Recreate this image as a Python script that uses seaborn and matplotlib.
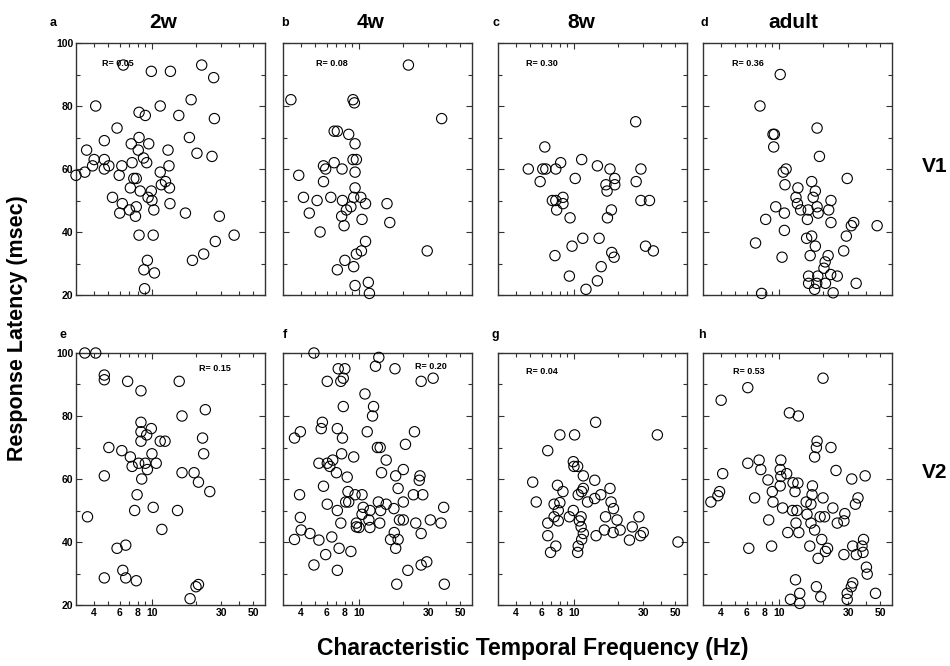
import numpy as np
import pandas as pd
import seaborn as sns
import matplotlib.pyplot as plt
import matplotlib.ticker as ticker

# Values: characteristic temporal frequency (Hz) vs response latency (msec)
v1_2w_tf = [3.0, 3.45, 3.55, 4.0, 4.1, 3.9, 4.7, 4.7, 4.7, 5.05, 5.75, 5.95, 6.2, 5.35, 6.25, 6.0,
            6.35, 7.0, 7.2, 7.3, 7.1, 7.5, 7.8, 8.15, 8.05, 8.3, 7.8, 7.7, 8.15, 9.0, 8.75, 9.2,
            9.5, 9.4, 9.9, 10.0, 10.3, 8.15, 10.2, 9.3, 8.8, 10.4, 8.9, 9.9, 11.4, 11.4, 11.6,
            12.4, 13.2, 12.9, 13.1, 13.3, 13.4, 15.3, 17.0, 18.1, 18.6, 20.4, 19.0, 22.0, 22.7,
            26.6, 26.9, 25.9, 27.3, 29.1, 36.8]
v1_2w_lat = [58, 59, 66, 63, 80, 61, 63, 69, 60, 61, 73, 58, 61, 51, 49, 46,
             93, 47, 68, 62, 54, 57, 57, 70, 66, 53, 48, 45, 78, 77, 63.5, 62,
             68, 51, 53, 50, 47, 39, 39, 31, 28, 27, 22, 91, 80, 59, 55,
             56, 54, 66, 61, 49, 91, 77, 46, 70, 82, 65, 31, 93, 33,
             89, 76, 64, 37, 45, 39]

v1_4w_tf = [3.4, 3.85, 4.15, 4.55, 5.15, 5.4, 5.7, 5.7, 5.9, 6.4, 6.75, 6.75, 7.1, 7.65, 8.5,
            7.7, 8.2, 7.6, 7.9, 8.8, 9.1, 9.3, 9.4, 9.1, 9.6, 9.4, 9.4, 9.2, 10.3, 11.1, 10.5,
            11.1, 10.4, 9.6, 8.0, 7.1, 9.2, 9.4, 11.6, 11.8, 15.6, 16.3, 21.9, 29.5, 37.1]
v1_4w_lat = [82, 58, 51, 46, 50, 40, 56, 61, 60, 51, 62, 72, 72, 60, 71,
             50, 47, 45, 42, 48, 82, 81, 68, 63, 63, 59, 54, 51, 51, 49, 44,
             37, 34, 33, 31, 28, 29, 23, 24, 20.5, 49, 43, 93, 34, 76]

v1_8w_tf = [4.85, 5.85, 6.1, 6.4, 6.3, 7.5, 8.1, 7.1, 7.5, 8.4, 8.4, 7.6, 9.4, 10.2, 11.3,
            14.5, 17.7, 16.6, 16.9, 19.1, 19.1, 18.1, 17.0, 26.6, 28.9, 26.8, 28.9, 33.1, 31.1,
            35.2, 11.5, 14.9, 9.7, 7.4, 18.2, 18.9, 15.4, 9.3, 14.5, 12.1]
v1_8w_lat = [60, 56, 60, 60, 67, 60, 62, 50, 50, 51, 49, 47, 44.5, 57, 63,
             61, 60, 55, 53, 57, 55, 47, 44.5, 75, 60, 56, 50, 50, 35.5,
             34, 38, 38, 35.5, 32.5, 33.5, 32, 29, 26, 24.5, 21.8]

v1_adult_tf = [10.2, 7.4, 9.1, 9.3, 9.2, 18.3, 19.0, 11.2, 10.7, 11.0, 29.5, 16.8, 13.5, 17.8,
               17.2, 13.1, 13.4, 14.1, 15.9, 18.3, 22.8, 22.0, 18.6, 15.7, 9.5, 10.9, 8.1,
               22.8, 31.5, 32.7, 47.4, 10.9, 6.9, 15.5, 16.8, 17.8, 29.1, 27.9, 10.5, 16.4,
               21.8, 20.8, 20.4, 16.0, 18.5, 16.0, 18.2, 17.6, 20.9, 22.7, 25.2, 34.0, 23.6, 7.6]
v1_adult_lat = [90, 80, 71, 71, 67, 73, 64, 60, 59, 55, 57, 56, 54, 53,
                51, 51, 49, 47, 47, 48, 50, 47, 46, 44, 48, 46, 44,
                43, 42, 43, 42, 40.5, 36.5, 38, 38.7, 35.5, 38.7, 34, 32, 32.5,
                32.5, 30.5, 28.5, 26, 26, 23.7, 23.7, 21.8, 23.7, 26.5, 26, 23.7, 20.7, 20.5]

v2_2w_tf = [3.45, 4.1, 3.6, 4.7, 4.7, 5.05, 4.7, 4.7, 5.75, 6.6, 6.3, 6.6, 7.8, 6.8, 8.4,
            6.2, 7.1, 7.3, 8.4, 8.4, 8.4, 9.2, 9.9, 8.1, 9.0, 9.3, 10.0, 10.7, 8.5, 7.9,
            7.6, 10.2, 11.7, 11.4, 12.3, 15.4, 16.1, 16.1, 15.0, 19.5, 20.9, 22.3, 22.7,
            23.3, 25.0, 18.3, 20.1, 20.9]
v2_2w_lat = [100, 100, 48, 93, 91.5, 70, 61, 28.6, 38, 39, 31, 28.6, 27.7, 91, 88,
             69, 67, 64, 78, 75, 72, 74, 76, 65, 65, 63, 68, 65, 60, 55,
             50, 51, 44, 72, 72, 91, 80, 62, 50, 62, 59, 73, 68,
             82, 56, 22, 25.8, 26.5]

v2_4w_tf = [4.9, 13.7, 13.0, 17.7, 7.2, 8.0, 6.05, 7.5, 7.8, 26.8, 32.4, 11.0, 7.8, 12.6,
            12.4, 5.6, 5.5, 7.1, 7.7, 11.4, 24.1, 3.95, 3.6, 13.4, 14.0, 20.9, 7.6, 9.2,
            5.3, 6.05, 6.6, 6.3, 7.0, 8.3, 15.4, 14.3, 17.9, 20.2, 26.3, 26.0, 5.7, 3.9,
            8.4, 8.5, 9.4, 10.5, 8.1, 18.6, 23.7, 27.5, 20.2, 13.6, 15.4, 6.05, 10.7, 11.9,
            14.1, 17.4, 10.5, 7.1, 38.3, 3.95, 4.0, 9.6, 11.7, 13.9, 7.5, 19.0, 20.2, 24.6,
            31.0, 36.7, 9.6, 10.0, 11.9, 4.6, 3.6, 5.3, 6.5, 17.5, 16.5, 18.6, 26.8, 17.9,
            7.3, 8.8, 5.9, 4.9, 7.1, 21.7, 26.8, 29.3, 18.2, 38.7]
v2_4w_lat = [100, 98.6, 95.8, 95, 95, 95, 91, 91, 92, 91, 92, 87, 83, 83,
             80, 78, 76, 76, 73, 75, 75, 75, 73, 70, 70, 71, 68, 67,
             65, 65, 66, 64, 62, 60.6, 66, 62, 61, 63, 61, 59.6, 57.7, 55,
             56, 52.7, 55, 55, 52.7, 57, 55, 55, 52.7, 52.7, 52, 52, 51, 50,
             50, 50.6, 48.8, 50, 51, 47.8, 43.8, 46, 47, 46, 46, 47, 47, 46,
             47, 46, 44.8, 44.6, 44.6, 42.7, 40.8, 40.6, 41.6, 43, 40.8, 40.8, 42.7, 38,
             38, 37, 36, 32.7, 31, 31, 32.7, 33.7, 26.6, 26.6]

v2_8w_tf = [14.1, 8.0, 10.1, 37.5, 6.6, 9.9, 10.0, 10.6, 11.6, 5.2, 13.9, 7.7, 8.4, 10.7,
            11.3, 11.6, 17.7, 12.4, 13.9, 15.3, 5.5, 7.3, 8.0, 18.0, 18.7, 7.8, 9.9, 9.3,
            7.3, 11.2, 16.5, 19.8, 6.6, 7.8, 10.9, 11.2, 16.2, 20.8, 18.6, 25.2, 28.0, 30.0,
            28.7, 11.6, 14.2, 6.6, 24.1, 11.3, 10.7, 7.5, 6.9, 10.6, 52.0]
v2_8w_lat = [78, 74, 74, 74, 69, 65.5, 64, 64, 61, 59, 59.6, 58, 56, 55,
             56, 57, 57, 52.7, 53.8, 55, 52.7, 52, 52.5, 52.7, 50.6, 50, 50, 48,
             48, 48, 48, 47, 46, 46.7, 46.7, 44.8, 43.8, 43.8, 43, 44.8, 48, 43,
             42, 42.7, 42, 42, 40.6, 40.8, 38.7, 38.7, 36.7, 36.7, 40]

v2_adult_tf = [20.1, 6.1, 4.0, 11.8, 13.6, 18.3, 18.1, 22.8, 17.6, 6.1, 7.3, 7.5, 10.3, 10.2,
               11.3, 10.3, 8.4, 24.7, 4.1, 39.2, 31.7, 12.5, 13.5, 17.0, 10.2, 12.9, 9.0,
               3.9, 3.8, 3.4, 6.8, 9.1, 16.9, 20.1, 35.0, 33.6, 15.4, 16.6, 10.6, 12.4,
               13.3, 23.5, 15.6, 19.2, 20.6, 28.4, 28.0, 25.2, 8.5, 13.1, 16.6, 11.5, 13.7,
               17.6, 19.7, 38.2, 37.3, 32.2, 16.3, 8.9, 6.2, 21.6, 20.9, 18.6, 28.0, 34.1,
               37.9, 40.0, 40.5, 13.0, 18.1, 32.2, 31.5, 46.2, 19.4, 13.9, 12.0, 13.9, 29.5, 29.5]
v2_adult_lat = [92, 89, 85, 81, 80, 72, 70, 70, 67, 65, 66, 63, 66, 63,
                61.7, 60.8, 59.7, 62.7, 61.7, 61, 60, 58.8, 58.7, 57.8, 57.8, 56, 56,
                56, 54.7, 52.7, 54, 52.7, 55, 54, 54, 52, 52.7, 52, 50.8, 50,
                50, 50.8, 48.8, 48, 48, 49, 46.7, 46, 47, 46, 46, 43, 43,
                43.8, 40.8, 40.8, 38.7, 38.7, 38.7, 38.7, 38, 38, 37, 34.8, 36, 36,
                36.7, 32, 29.8, 28, 25.8, 27, 25.8, 23.7, 22.6, 23.7, 21.8, 20.5, 23.7, 21.8]

ages = ['2w', '4w', '8w', 'adult']
areas = ['V1', 'V2']
r_labels = [['R= 0.05', 'R= 0.08', 'R= 0.30', 'R= 0.36'],
            ['R= 0.15', 'R= 0.20', 'R= 0.04', 'R= 0.53']]
panel_letters = [['a', 'b', 'c', 'd'], ['e', 'f', 'g', 'h']]

series = {
    ('V1', '2w'): (v1_2w_tf, v1_2w_lat), ('V1', '4w'): (v1_4w_tf, v1_4w_lat),
    ('V1', '8w'): (v1_8w_tf, v1_8w_lat), ('V1', 'adult'): (v1_adult_tf, v1_adult_lat),
    ('V2', '2w'): (v2_2w_tf, v2_2w_lat), ('V2', '4w'): (v2_4w_tf, v2_4w_lat),
    ('V2', '8w'): (v2_8w_tf, v2_8w_lat), ('V2', 'adult'): (v2_adult_tf, v2_adult_lat),
}
frames = []
for (area, age), (tf, lat) in series.items():
    frames.append(pd.DataFrame({'tf': tf, 'latency': lat, 'area': area, 'age': age}))
df = pd.concat(frames, ignore_index=True)

sns.set_style('ticks')
plt.rcParams['font.family'] = ['Liberation Sans', 'DejaVu Sans']
plt.rcParams['font.weight'] = 'bold'
plt.rcParams['text.color'] = 'black'
plt.rcParams['xtick.color'] = 'black'
plt.rcParams['ytick.color'] = 'black'

W, H = 950, 666
fig = plt.figure(figsize=(9.5, 6.66), dpi=100)

col_left = [76, 283, 498, 703]
row_top = [43, 353]
ax_w, ax_h = 189, 252
# R label positions in axes fraction
r_pos = [[(0.22, 0.92), (0.26, 0.92), (0.23, 0.92), (0.24, 0.92)],
         [(0.735, 0.94), (0.78, 0.945), (0.23, 0.926), (0.24, 0.926)]]
letter_x = [[53, 285, 496, 704], [63, 285, 495, 702]]
letter_y = [23, 335]


def minor_fmt(v, pos):
    return '%g' % v if round(v) in (4, 6, 8, 30, 50) else ''


for i, area in enumerate(areas):
    for j, age in enumerate(ages):
        ax = fig.add_axes([col_left[j] / W, 1 - (row_top[i] + ax_h) / H, ax_w / W, ax_h / H])
        ax.set_xscale('log')
        sub = df[(df['area'] == area) & (df['age'] == age)]
        sns.scatterplot(data=sub, x='tf', y='latency', ax=ax, s=55, facecolors='none',
                        edgecolor='black', linewidth=0.8, clip_on=False, zorder=3)
        ax.set_xlim(3, 60)
        ax.set_ylim(20, 100)
        ax.xaxis.set_major_locator(ticker.FixedLocator([10]))
        ax.xaxis.set_minor_locator(ticker.FixedLocator([4, 5, 6, 7, 8, 9, 20, 30, 40, 50]))
        ax.xaxis.set_major_formatter(ticker.FuncFormatter(lambda v, p: '%g' % v))
        ax.xaxis.set_minor_formatter(ticker.FuncFormatter(minor_fmt))
        ax.yaxis.set_major_locator(ticker.MultipleLocator(20))
        ax.yaxis.set_minor_locator(ticker.MultipleLocator(10))
        ax.tick_params(which='both', direction='in', top=True, right=True,
                       labelsize=7.5, pad=2, color='#333333', width=0.8)
        ax.tick_params(which='major', length=4)
        ax.tick_params(which='minor', length=3)
        if i == 0:
            ax.tick_params(which='both', labelbottom=False)
        if j > 0:
            ax.tick_params(which='both', labelleft=False)
        for sp in ax.spines.values():
            sp.set_color('#333333')
            sp.set_linewidth(1.0)
        ax.set_xlabel('')
        ax.set_ylabel('')
        ax.text(r_pos[i][j][0], r_pos[i][j][1], r_labels[i][j], transform=ax.transAxes,
                ha='center', va='center', fontsize=6.5, fontweight='bold')
        fig.text(letter_x[i][j] / W, 1 - letter_y[i] / H, panel_letters[i][j],
                 ha='center', va='center', fontsize=9, fontweight='bold')

title_x = [163, 371, 581, 793]
for j, age in enumerate(ages):
    fig.text(title_x[j] / W, 1 - 22 / H, age, ha='center', va='center', fontsize=15, fontweight='bold')

fig.text(935 / W, 1 - 167 / H, 'V1', ha='center', va='center', fontsize=15, fontweight='bold')
fig.text(935 / W, 1 - 473 / H, 'V2', ha='center', va='center', fontsize=15, fontweight='bold')
fig.text(18 / W, 1 - 328 / H, 'Response Latency (msec)', rotation=90, ha='center', va='center',
         fontsize=15.5, fontweight='bold')
fig.text(533 / W, 1 - 648 / H, 'Characteristic Temporal Frequency (Hz)', ha='center', va='center',
         fontsize=16.5, fontweight='bold')

fig.savefig('out.png', dpi=100)
